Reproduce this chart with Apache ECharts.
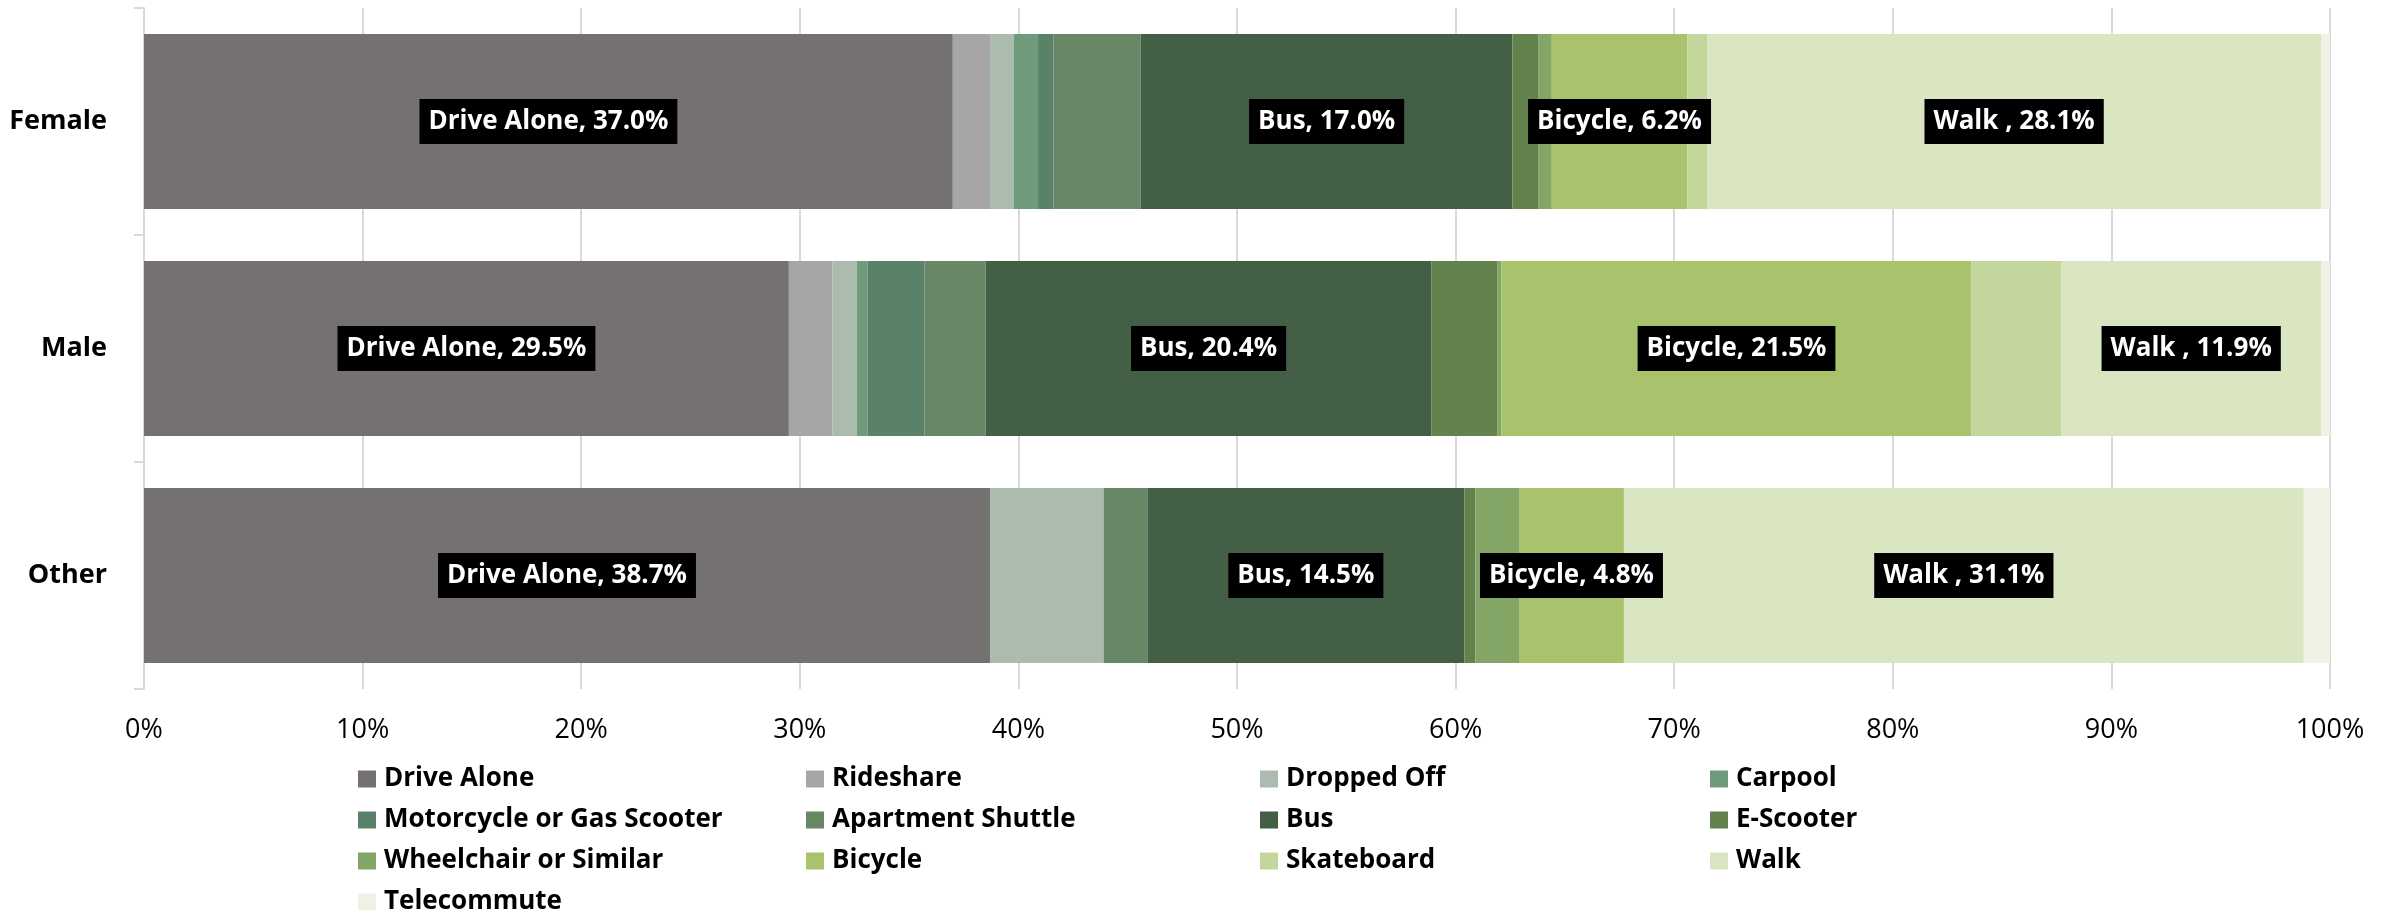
<!DOCTYPE html>
<html>
<head>
<meta charset="utf-8">
<title>Commute mode by gender</title>
<script src="https://cdn.jsdelivr.net/npm/echarts@6/dist/echarts.min.js"></script>
<style>
  html, body { margin: 0; padding: 0; background: #fff; }
  #chart { width: 2397px; height: 915px; }
</style>
</head>
<body>
<div id="chart"></div>
<script>
// categories (top to bottom)
const genders = ["Female", "Male", "Other"];

// mode names, in stacking order
const modes = [
  "Drive Alone", "Rideshare", "Dropped Off", "Carpool",
  "Motorcycle or Gas Scooter", "Apartment Shuttle", "Bus", "E-Scooter",
  "Wheelchair or Similar", "Bicycle", "Skateboard", "Walk", "Telecommute"
];

// share of each mode (%), per gender: [Female, Male, Other]
const driveAlone = [37.0, 29.5, 38.7];
const rideshare = [1.7, 2.0, 0];
const droppedOff = [1.1, 1.1, 5.2];
const carpool = [1.1, 0.5, 0];
const motorcycle = [0.7, 2.6, 0];
const aptShuttle = [4.0, 2.8, 2.0];
const bus = [17.0, 20.4, 14.5];
const eScooter = [1.2, 3.0, 0.5];
const wheelchair = [0.6, 0.2, 2.0];
const bicycle = [6.2, 21.5, 4.8];
const skateboard = [0.9, 4.1, 0];
const walk = [28.1, 11.9, 31.1];
const telecommute = [0.4, 0.4, 1.2];

const xTicks = [0, 10, 20, 30, 40, 50, 60, 70, 80, 90, 100];

const modeValues = [driveAlone, rideshare, droppedOff, carpool, motorcycle, aptShuttle,
  bus, eScooter, wheelchair, bicycle, skateboard, walk, telecommute];

const colors = ["#767171", "#a6a6a6", "#abbbad", "#6f9a7b", "#5a8269", "#678767",
  "#436047", "#63824d", "#83a666", "#a9c36c", "#c3d69b", "#dae6c1", "#eff3e6"];

// segments that carry a data label, with the label prefix used in the chart
const labelled = { "Drive Alone": "Drive Alone", "Bus": "Bus", "Bicycle": "Bicycle", "Walk": "Walk " };

const FONT = "'Open Sans', sans-serif";

let chart = echarts.init(document.getElementById("chart"), null, { renderer: "canvas" });

let series = modes.map(function (name, i) {
  let s = {
    name: name,
    type: "bar",
    stack: "total",
    barWidth: "77%",
    itemStyle: { color: colors[i] },
    emphasis: { disabled: true },
    data: modeValues[i]
  };
  if (labelled[name]) {
    s.label = {
      show: true,
      position: "inside",
      formatter: function (p) {
        return labelled[name] + ", " + Number(p.value).toFixed(1) + "%";
      },
      color: "#fff",
      backgroundColor: "#000",
      padding: [10, 9, 9, 9],
      fontFamily: FONT,
      fontWeight: "bold",
      fontSize: 26
    };
  }
  return s;
});

// legend laid out in four columns, filled row by row
const colLeft = [358, 806, 1260, 1710];
let legends = colLeft.map(function (left, c) {
  return {
    orient: "vertical",
    left: left,
    top: 766,
    padding: 0,
    itemWidth: 18,
    itemHeight: 17,
    itemGap: 15,
    icon: "rect",
    selectedMode: false,
    textStyle: { fontFamily: FONT, fontWeight: "bold", fontSize: 26, lineHeight: 26, color: "#000", padding: [0, 0, 0, 3] },
    data: modes.filter(function (m, i) { return i % 4 === c; })
  };
});

chart.setOption({
  animation: false,
  color: colors,
  grid: { left: 144, right: 67, top: 8, height: 681 },
  legend: legends,
  xAxis: {
    type: "value",
    min: xTicks[0],
    max: xTicks[xTicks.length - 1],
    interval: 10,
    axisLine: { show: false },
    axisTick: { show: false },
    splitLine: { lineStyle: { color: "#d9d9d9", width: 2 } },
    axisLabel: {
      margin: 28,
      formatter: "{value}%",
      color: "#000",
      fontFamily: FONT,
      fontSize: 27
    }
  },
  yAxis: {
    type: "category",
    inverse: true,
    data: genders,
    axisLine: { lineStyle: { color: "#d9d9d9", width: 2 } },
    axisTick: { show: true, length: 10, lineStyle: { color: "#d9d9d9", width: 2 } },
    axisLabel: {
      margin: 37,
      color: "#000",
      fontFamily: FONT,
      fontWeight: "bold",
      fontSize: 27
    }
  },
  series: series
});
</script>
</body>
</html>
